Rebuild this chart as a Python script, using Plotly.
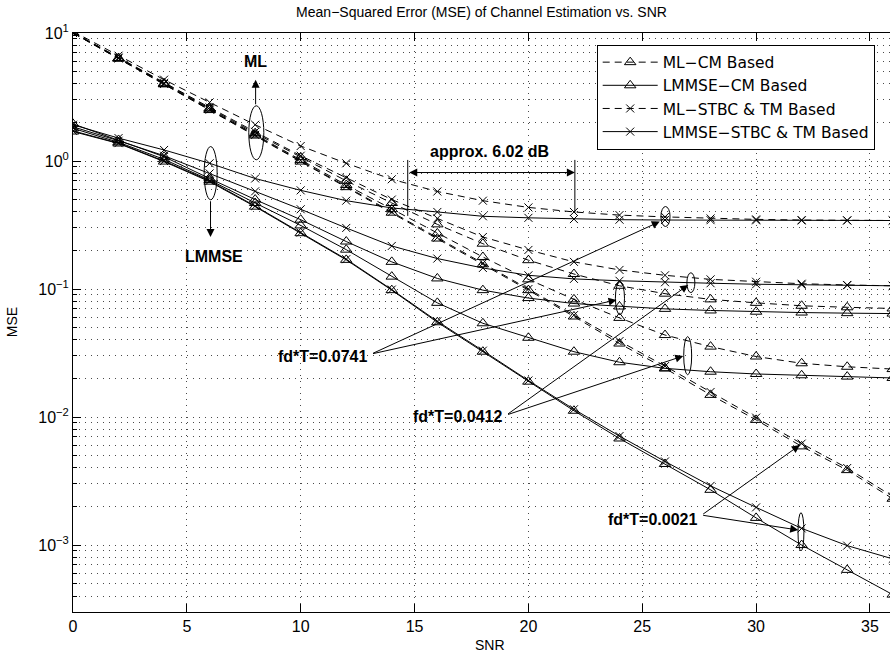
import math
import plotly.graph_objects as go

# ---------------- data ----------------
snr = [0, 2, 4, 6, 8, 10, 12, 14, 16, 18, 20, 22, 24, 26, 28, 30, 32, 34, 36]

ml_cm_0741 = [10.07, 6.38, 4.05, 2.58, 1.65, 1.07, 0.70, 0.47, 0.32, 0.226, 0.168, 0.131, 0.106, 0.092, 0.083, 0.078, 0.074, 0.072, 0.0705]
ml_cm_0412 = [10.02, 6.33, 4.00, 2.53, 1.61, 1.02, 0.65, 0.42, 0.272, 0.178, 0.119, 0.083, 0.0595, 0.0437, 0.0355, 0.0297, 0.0263, 0.0247, 0.0237]
ml_cm_0021 = [10.0, 6.30, 3.97, 2.50, 1.58, 0.99, 0.625, 0.395, 0.248, 0.156, 0.098, 0.061, 0.0375, 0.0240, 0.0149, 0.0095, 0.0059, 0.00385, 0.0023]

lmmse_cm_0741 = [1.95, 1.46, 1.08, 0.73, 0.50, 0.348, 0.235, 0.163, 0.121, 0.098, 0.085, 0.077, 0.073, 0.070, 0.068, 0.0665, 0.0655, 0.0648, 0.0643]
lmmse_cm_0412 = [1.80, 1.40, 1.03, 0.71, 0.47, 0.314, 0.203, 0.125, 0.078, 0.054, 0.0416, 0.0324, 0.0268, 0.0240, 0.0226, 0.0217, 0.0212, 0.0207, 0.0202]
lmmse_cm_0021 = [1.70, 1.37, 0.99, 0.69, 0.44, 0.273, 0.169, 0.098, 0.055, 0.0324, 0.0189, 0.0112, 0.0068, 0.0043, 0.0027, 0.00163, 0.00100, 0.00064, 0.00041]

ml_stbc_0741 = [10.3, 6.65, 4.32, 2.87, 1.92, 1.31, 0.96, 0.72, 0.578, 0.49, 0.434, 0.40, 0.378, 0.366, 0.356, 0.350, 0.346, 0.344, 0.343]
ml_stbc_0412 = [10.1, 6.42, 4.08, 2.62, 1.69, 1.10, 0.74, 0.50, 0.356, 0.255, 0.202, 0.163, 0.141, 0.128, 0.119, 0.114, 0.110, 0.1076, 0.106]
ml_stbc_0021 = [10.0, 6.32, 4.00, 2.52, 1.60, 1.01, 0.635, 0.40, 0.252, 0.159, 0.100, 0.0625, 0.0392, 0.0250, 0.0157, 0.0099, 0.0062, 0.0040, 0.0024]

lmmse_stbc_0741 = [1.92, 1.51, 1.22, 0.96, 0.73, 0.59, 0.49, 0.43, 0.40, 0.37, 0.36, 0.352, 0.348, 0.346, 0.345, 0.344, 0.343, 0.343, 0.343]
lmmse_stbc_0412 = [1.85, 1.44, 1.10, 0.80, 0.58, 0.42, 0.30, 0.217, 0.173, 0.146, 0.128, 0.120, 0.116, 0.113, 0.111, 0.109, 0.108, 0.107, 0.106]
lmmse_stbc_0021 = [1.72, 1.38, 1.00, 0.70, 0.445, 0.276, 0.171, 0.099, 0.056, 0.033, 0.0193, 0.0115, 0.0071, 0.0045, 0.0029, 0.00197, 0.00135, 0.00099, 0.00078]

series_names = ["ML\u2212CM Based", "LMMSE\u2212CM Based", "ML\u2212STBC & TM Based", "LMMSE\u2212STBC & TM Based"]
series_data = [
    [ml_cm_0741, ml_cm_0412, ml_cm_0021],
    [lmmse_cm_0741, lmmse_cm_0412, lmmse_cm_0021],
    [ml_stbc_0741, ml_stbc_0412, ml_stbc_0021],
    [lmmse_stbc_0741, lmmse_stbc_0412, lmmse_stbc_0021],
]

x_ticks = [0, 5, 10, 15, 20, 25, 30, 35]
y_ticks = [1e-3, 1e-2, 1e-1, 1, 10]
y_ticktext = ["10<sup>\u22123</sup>", "10<sup>\u22122</sup>", "10<sup>\u22121</sup>", "10<sup>0</sup>", "10<sup>1</sup>"]

X_RANGE = [0, 35.88]
Y_MIN, Y_MAX = 3e-4, 10.0

# ---------------- styles ----------------
FONT = "Liberation Sans, Arial, Helvetica, sans-serif"
LEG_FONT = "DejaVu Sans, Liberation Sans, Arial, sans-serif"
DASH = "7px,5px"
styles = [
    dict(dash=DASH, symbol="triangle-up-open", size=10),
    dict(dash="solid", symbol="triangle-up-open", size=10),
    dict(dash=DASH, symbol="x-thin-open", size=8),
    dict(dash="solid", symbol="x-thin-open", size=8),
]

fig = go.Figure()
for name, group, st in zip(series_names, series_data, styles):
    for i, vals in enumerate(group):
        fig.add_trace(go.Scatter(
            x=snr, y=vals, mode="lines+markers", name=name,
            legendgroup=name, showlegend=(i == 0),
            line=dict(color="black", width=1, dash=st["dash"]),
            marker=dict(symbol=st["symbol"], size=st["size"], color="black",
                        line=dict(color="black", width=1)),
        ))

# ---------------- helpers for annotations ----------------
ly0, ly1 = math.log10(Y_MIN), math.log10(Y_MAX)


def pyv(v):
    return (math.log10(v) - ly0) / (ly1 - ly0)


annotations = []
shapes = []


def text(s, v, t, size=16, bold=True, **kw):
    annotations.append(dict(x=s, y=math.log10(v), xref="x", yref="y", text=(f"<b>{t}</b>" if bold else t),
                            showarrow=False, font=dict(size=size, family=FONT, color="black"), **kw))


def arrow(s0, v0, s1, v1, both=False):
    annotations.append(dict(x=s1, y=math.log10(v1), ax=s0, ay=math.log10(v0), xref="x", yref="y",
                            axref="x", ayref="y", text="", showarrow=True, arrowhead=2,
                            arrowsize=1.6, arrowwidth=1, arrowcolor="black", standoff=0,
                            startstandoff=0, arrowside=("end+start" if both else "end"),
                            startarrowhead=2, startarrowsize=1.6))


def ellipse(s0, s1, v0, v1):
    shapes.append(dict(type="circle", xref="x", yref="paper", x0=s0, x1=s1, y0=pyv(v0), y1=pyv(v1),
                       line=dict(color="black", width=1)))


def vline(s, v0, v1):
    shapes.append(dict(type="line", xref="x", yref="paper", x0=s, x1=s, y0=pyv(v0), y1=pyv(v1),
                       line=dict(color="black", width=1)))


# ML / LMMSE groups
ellipse(7.72, 8.38, 1.023, 2.70)
arrow(8.02, 2.70, 8.02, 4.32)
text(8.02, 5.97, "ML")
ellipse(5.76, 6.33, 0.498, 1.297)
arrow(6.04, 0.498, 6.04, 0.255)
text(6.18, 0.178, "LMMSE")

# 6.02 dB gap
text(18.31, 1.186, "approx. 6.02 dB")
arrow(14.70, 0.813, 22.04, 0.813, both=True)
vline(14.70, 1.02, 0.373)
vline(22.04, 1.02, 0.394)

# fd*T ellipses
ellipse(25.82, 26.22, 0.308, 0.441)
ellipse(23.82, 24.22, 0.0630, 0.114)
ellipse(26.96, 27.31, 0.0938, 0.134)
ellipse(26.82, 27.17, 0.0214, 0.0425)
ellipse(31.84, 32.10, 0.00090, 0.00179)

# fd*T labels and arrows
text(10.95, 0.0296, "fd*T=0.0741")
arrow(13.11, 0.0311, 25.77, 0.3365)
arrow(13.11, 0.0311, 23.87, 0.0822)
text(16.89, 0.0101, "fd*T=0.0412")
arrow(19.04, 0.01038, 27.02, 0.1076)
arrow(19.04, 0.01038, 26.80, 0.030)
text(25.44, 0.001596, "fd*T=0.0021")
arrow(27.61, 0.001714, 31.92, 0.00604)
arrow(27.61, 0.001714, 31.85, 0.00131)

# axis titles
annotations.append(dict(x=0.51, y=-0.0576, xref="paper", yref="paper", text="SNR", showarrow=False,
                        font=dict(size=14, family=FONT, color="black"), yanchor="middle"))
annotations.append(dict(x=-0.075, y=0.5, xref="paper", yref="paper", text="MSE", showarrow=False,
                        textangle=-90, font=dict(size=14, family=FONT, color="black"), xanchor="center"))

# minor y ticks (2..9 per decade)
minor_vals = []
for d in range(-4, 1):
    for k in range(2, 10):
        v = k * 10 ** d
        if Y_MIN <= v <= Y_MAX:
            minor_vals.append(v)

GRID = "#4a4a4a"
GDASH = "1px,5px"

fig.update_layout(
    width=890, height=657,
    margin=dict(l=73, r=0, t=33, b=45),
    paper_bgcolor="white", plot_bgcolor="white",
    font=dict(family=FONT, size=14, color="black"),
    title=dict(text="Mean\u2212Squared Error (MSE) of Channel Estimation vs. SNR",
               x=0.5, xref="paper", xanchor="center", y=1 - 12 / 657, yref="container", yanchor="middle",
               font=dict(size=14, family=FONT, color="black")),
    xaxis=dict(range=X_RANGE, tickmode="array", tickvals=x_ticks, ticks="inside", ticklen=8,
               tickcolor="black", showline=True, linecolor="black", linewidth=1, mirror="ticks",
               showgrid=True, gridcolor=GRID, griddash=GDASH, gridwidth=1, zeroline=False,
               tickfont=dict(size=16)),
    yaxis=dict(type="log", range=[ly0, ly1], tickmode="array", tickvals=y_ticks, ticktext=y_ticktext,
               ticks="inside", ticklen=8, tickcolor="black", showline=True, linecolor="black",
               linewidth=1, showgrid=True, gridcolor=GRID, griddash=GDASH, gridwidth=1, zeroline=False,
               tickfont=dict(size=16),
               minor=dict(tickmode="array", tickvals=minor_vals, ticks="inside", ticklen=4, tickcolor="black",
                          showgrid=True, gridcolor=GRID, griddash=GDASH, gridwidth=1)),
    legend=dict(x=0.641, y=0.980, xanchor="left", yanchor="top", bordercolor="black", borderwidth=1,
                bgcolor="white", font=dict(size=15.5, family=LEG_FONT, color="black"), itemwidth=55,
                tracegroupgap=0),
    annotations=annotations,
    shapes=shapes,
    showlegend=True,
)

fig.write_html("out.html", config={"displayModeBar": False},
               post_script="document.body.style.margin='0px';document.body.style.overflow='hidden';")
